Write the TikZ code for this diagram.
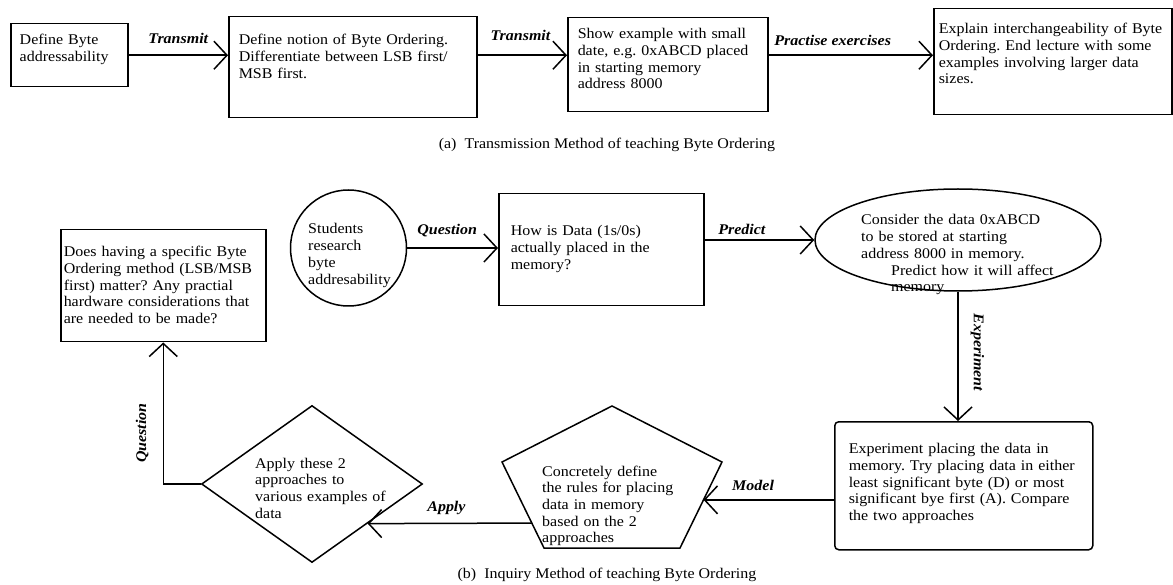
\documentclass[tikz,border=0pt]{standalone}
\usepackage{fontspec}
\setmainfont{Liberation Serif}[FakeStretch=1.08]
\usetikzlibrary{arrows.meta,shapes.geometric,calc}
\frenchspacing

\newcommand{\bodyfont}{\fontsize{14.8}{16.7}\selectfont}

\tikzset{
  blk/.style={draw, line width=1.5pt, anchor=north west, inner ysep=0pt, align=left},
  shp/.style={draw, line width=1.5pt, inner sep=0pt},
  txt/.style={anchor=base west, inner sep=0pt, align=left},
  arr/.style={line width=1.5pt, -{Straight Barb[length=13pt,width=28pt]}},
  lbl/.style={font=\bodyfont\bfseries\itshape, inner sep=2pt},
}

\begin{document}
\begin{tikzpicture}[x=1pt, y=-1pt, font=\bodyfont]
  \useasboundingbox (0,0) rectangle (1173,585);

  % (a) transmission
  \node[blk, inner xsep=9pt, text width=99pt, text height=21pt, text depth=42pt] (a1) at (10,23)
    {Define Byte\\addressability};
  \node[blk, inner xsep=10pt, text width=228pt, text height=28pt, text depth=73pt] (a2) at (228,16)
    {Define notion of Byte Ordering.\\Differentiate between LSB first/\\MSB first.};
  \node[blk, inner xsep=10pt, text width=180pt, text height=21pt, text depth=73pt] (a3) at (567,17)
    {Show example with small\\date, e.g. 0xABCD placed\\in starting memory\\address 8000};
  \node[blk, inner xsep=5pt, text width=228pt, text height=25pt, text depth=81pt] (a4) at (933,8)
    {Explain interchangeability of Byte\\Ordering. End lecture with some\\examples involving larger data\\sizes.};

  \draw[arr] (a1.east) -- (a1.east -| a2.west)
    node[lbl, pos=0.5, above=8.5pt] (lt1) {Transmit};
  \draw[arr] (a2.east |- a1.east) -- (a1.east -| a3.west)
    node[lbl, pos=0.48, above=11.5pt] (lt2) {Transmit};
  \draw[arr] (a3.east |- a1.east) -- (a1.east -| a4.west)
    node[lbl, pos=0.39, above=6.5pt] (lt3) {Practise exercises};

  \node (capa) at (607,145) {(a)\ \ Transmission Method of teaching Byte Ordering};

  % (b) inquiry
  \node[shp, circle, minimum size=116pt] (stud) at (348.5,248) {};
  \node[txt, text width=95pt] (studtxt) at (308,234) {Students\\research\\byte\\addresability};

  \node[blk, inner xsep=12pt, text width=181pt, text height=42pt, text depth=70pt] (b2) at (498,193)
    {How is Data (1s/0s)\\actually placed in the\\memory?};

  \node[shp, ellipse, minimum width=286pt, minimum height=102pt] (pred) at (958,240) {};
  \node[txt, text width=200pt] (predtxt) at (861,225)
    {Consider the data 0xABCD\\to be stored at starting\\address 8000 in memory.\\
     \hspace*{30pt}Predict how it will affect\\\hspace*{30pt}memory};

  \node[blk, rounded corners=4pt, inner xsep=14pt, text width=230pt, text height=32pt, text depth=96pt] (b4) at (834,421)
    {Experiment placing the data in\\memory. Try placing data in either\\least significant byte (D) or most\\significant bye first (A). Compare\\the two approaches};

  % pentagon
  \coordinate (pT) at (612,406);
  \coordinate (pUR) at (722,462);
  \coordinate (pBR) at (680,548);
  \coordinate (pBL) at (544,548);
  \coordinate (pUL) at (502,462);
  \draw[line width=1.5pt] (pT) -- (pUR) -- (pBR) -- (pBL) -- (pUL) -- cycle;
  \coordinate (pR) at ($(pUR)!0.44!(pBR)$);
  \coordinate (pL) at ($(pUL)!0.71!(pBL)$);
  \node[txt, text width=135pt] (rulestxt) at (542,476)
    {Concretely define\\the rules for placing\\data in memory\\based on the 2\\approaches};

  \node[shp, diamond, minimum width=221pt, minimum height=157pt] (apply) at (312,484) {};
  \node[txt, text width=135pt] (applytxt) at (255,468)
    {Apply these 2\\approaches to\\various examples of\\data};
  \coordinate (applyin) at ($(apply.east)!0.5!(apply.south)$);

  \node[blk, inner xsep=3pt, text width=199pt, text height=27pt, text depth=85pt] (b1) at (60,229)
    {Does having a specific Byte\\Ordering method (LSB/MSB\\first) matter? Any practial\\hardware considerations that\\are needed to be made?};

  % connectors
  \draw[arr] (stud.east) -- (stud.east -| b2.west)
    node[lbl, pos=0.44, above=8pt] (lq1) {Question};
  \draw[arr] (b2.east |- pred.west) -- (pred.west)
    node[lbl, pos=0.34, above=3pt] (lp) {Predict};
  \draw[arr] (pred.south) -- (pred.south |- b4.north)
    node[lbl, pos=0.47, sloped, above=10pt] (le) {Experiment};
  \draw[arr] (pR -| b4.west) -- (pR)
    node[lbl, pos=0.62, above=6pt] (lm) {Model};
  \draw[arr] (pL) -- (applyin)
    node[lbl, pos=0.52, above=6pt] (la) {Apply};
  \draw[arr] (apply.west) -| (b1.south)
    node[lbl, pos=0.68, sloped, above=12pt] (lq2) {Question};

  \node (capb) at (607,575) {(b)\ \ Inquiry Method of teaching Byte Ordering};
\end{tikzpicture}
\end{document}
